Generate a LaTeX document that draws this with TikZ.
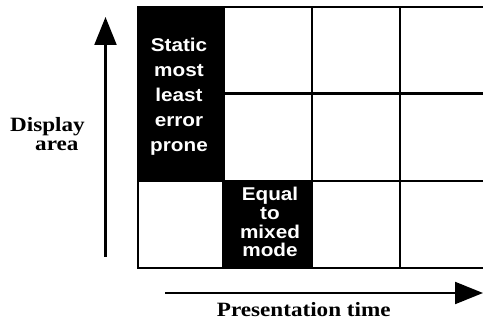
\documentclass[tikz,border=0pt]{standalone}
\usepackage{fontspec}
\usetikzlibrary{arrows.meta}
\setmainfont{Liberation Serif}[FakeStretch=1.14]
\newfontfamily\cellfont{Liberation Sans}[FakeStretch=1.12]
\tikzset{
  gridline/.style={line width=2.8pt, line cap=rect},
  axisarrow/.style={line width=2.2pt, -{Triangle[length=28pt,width=22pt]}},
  celltext/.style={text=white, inner sep=0pt, anchor=base},
  axislabel/.style={inner sep=0pt, anchor=base west, font=\fontsize{20.3}{24}\selectfont\bfseries},
}
\begin{document}
\begin{tikzpicture}[x=1pt,y=-1pt]
\useasboundingbox (0,0) rectangle (483,334);
% grid
\draw[gridline] (138,268) -- (138,7) -- (490,7);
\draw[gridline] (138,93.5) -- (490,93.5);
\draw[gridline] (138,181) -- (490,181);
\draw[gridline] (138,268) -- (490,268);
\draw[gridline] (223.5,7) -- (223.5,268);
\draw[gridline] (312,7) -- (312,268);
\draw[gridline] (400,7) -- (400,268);
% black cells
\fill[black] (136.6,5.6) rectangle (223.5,181);
\fill[black] (223.5,181) rectangle (312,269.4);
\node[celltext] (c1) at (179,51.7) {\cellfont\bfseries\fontsize{18.5}{25}\selectfont\setlength{\tabcolsep}{0pt}%
  \begin{tabular}[t]{c}Static\\most\\least\\error\\prone\end{tabular}};
\node[celltext] (c2) at (270,200.7) {\cellfont\bfseries\fontsize{18.5}{18.4}\selectfont\setlength{\tabcolsep}{0pt}%
  \begin{tabular}[t]{c}Equal\\to\\mixed\\mode\end{tabular}};
% axes
\coordinate (v0) at (105.5,257);
\coordinate (v1) at (105.5,17);
\coordinate (h0) at (165,293);
\coordinate (h1) at (483,293);
\draw[axisarrow] (v0) -- (v1);
\draw[axisarrow] (h0) -- (h1);
% labels
\node[axislabel] (d1) at (10,131.7) {Display};
\node[axislabel] (d2) at (35,151) {area};
\node[axislabel] (pt) at (216.7,316.7) {Presentation time};
\end{tikzpicture}
\end{document}
